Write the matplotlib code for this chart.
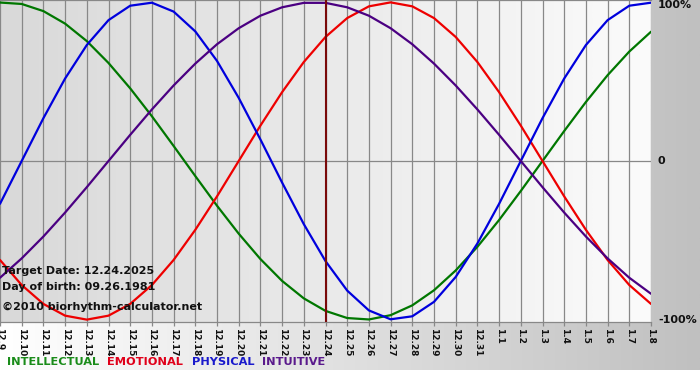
import matplotlib
matplotlib.use("Agg")
import matplotlib.pyplot as plt
import numpy as np
from matplotlib.colors import LinearSegmentedColormap
from matplotlib.transforms import blended_transform_factory

# ---------------- data ----------------
dates = ["12.9", "12.10", "12.11", "12.12", "12.13", "12.14", "12.15", "12.16",
         "12.17", "12.18", "12.19", "12.20", "12.21", "12.22", "12.23", "12.24",
         "12.25", "12.26", "12.27", "12.28", "12.29", "12.30", "12.31",
         "1.1", "1.2", "1.3", "1.4", "1.5", "1.6", "1.7", "1.8"]

intellectual = [0.999, 0.990, 0.945, 0.866, 0.756, 0.618, 0.458, 0.282, 0.095,
                -0.095, -0.282, -0.458, -0.618, -0.756, -0.866, -0.945, -0.990,
                -0.999, -0.972, -0.910, -0.815, -0.690, -0.541, -0.372, -0.189,
                0.0, 0.189, 0.372, 0.541, 0.690, 0.815]
emotional = [-0.624, -0.782, -0.901, -0.975, -1.0, -0.975, -0.901, -0.782,
             -0.624, -0.434, -0.223, 0.0, 0.223, 0.434, 0.624, 0.782, 0.901,
             0.975, 1.0, 0.975, 0.901, 0.782, 0.624, 0.434, 0.223, 0.0,
             -0.223, -0.434, -0.624, -0.782, -0.901]
physical = [-0.270, 0.0, 0.270, 0.520, 0.731, 0.888, 0.979, 0.998, 0.942,
            0.817, 0.631, 0.398, 0.136, -0.136, -0.398, -0.631, -0.817, -0.942,
            -0.998, -0.979, -0.888, -0.731, -0.520, -0.270, 0.0, 0.270, 0.520,
            0.731, 0.888, 0.979, 0.998]
intuitive = [-0.736, -0.614, -0.476, -0.325, -0.165, 0.0, 0.165, 0.325, 0.476,
             0.614, 0.736, 0.837, 0.916, 0.969, 0.997, 0.997, 0.969, 0.916,
             0.837, 0.736, 0.614, 0.476, 0.325, 0.165, 0.0, -0.165, -0.325,
             -0.476, -0.614, -0.736, -0.837]

target_date = "12.24"
y_ticks = [1, 0, -1]
y_tick_labels = ["100%", "0", "-100%"]
info_lines = ["Target Date: 12.24.2025", "Day of birth: 09.26.1981",
              "\u00a92010 biorhythm-calculator.net"]
legend_names = ["INTELLECTUAL", "EMOTIONAL", "PHYSICAL", "INTUITIVE"]

# ---------------- styles ----------------
line_colors = ["#007700", "#ee0000", "#0000dd", "#4b0082"]
text_colors = ["#1a8c1a", "#e0001a", "#1a1acc", "#5a1a8c"]
W, H = 700, 380

fig = plt.figure(figsize=(W / 100, H / 100), dpi=100)
fig.patch.set_facecolor("white")

# outer gradient background
bg = fig.add_axes([0, 0, 1, 1], zorder=0)
bg.set_axis_off()
grad = np.linspace(0, 1, 256).reshape(1, -1)
cm_out = LinearSegmentedColormap.from_list("o", ["#ffffff", "#c0c0c0"])
bg.imshow(grad, aspect="auto", cmap=cm_out, extent=[0, W, 10, H])
bg.set_xlim(0, W)
bg.set_ylim(0, H)

# plot area
pl_left, pl_right, pl_top, pl_bot = 0, 651, 0, 322
ax = fig.add_axes([pl_left / W, 1 - pl_bot / H, (pl_right - pl_left) / W,
                   (pl_bot - pl_top) / H], zorder=1)
x = np.arange(len(dates))
ymin, ymax = -1.015, 1.015
ax.set_xlim(0, len(dates) - 1)
ax.set_ylim(ymin, ymax)
cm_in = LinearSegmentedColormap.from_list("i", ["#d9d9d9", "#fbfbfb"])
ax.imshow(grad, aspect="auto", cmap=cm_in,
          extent=[0, len(dates) - 1, ymin, ymax], zorder=0)

ax.set_xticks(x)
ax.set_xticklabels(dates)
ax.xaxis.grid(True, color="#888888", linewidth=0.9, zorder=1)
ax.set_axisbelow(True)
ax.set_yticks([])
ax.tick_params(axis="x", direction="out", length=3, width=0.9,
               color="#888888", labelsize=6.5, pad=1.5, labelrotation=270)
for lab in ax.get_xticklabels():
    lab.set_fontweight("bold")
    lab.set_color("#111111")
for s in ["left", "right"]:
    ax.spines[s].set_visible(False)
for s in ["top", "bottom"]:
    ax.spines[s].set_color("#888888")
    ax.spines[s].set_linewidth(0.9)
ax.axhline(0, color="#888888", linewidth=0.9, zorder=1)

series = [intellectual, emotional, physical, intuitive]
for vals, c in zip(series, line_colors):
    ax.plot(x, vals, color=c, linewidth=1.6, zorder=3, solid_joinstyle="round",
            solid_capstyle="round")

# target date line
ax.axvline(dates.index(target_date), color="#7a0a0a", linewidth=1.5, zorder=4)

# right-hand labels
tr = blended_transform_factory(fig.transFigure, ax.transData)
for v, lab in zip(y_ticks, y_tick_labels):
    va = "top" if v == max(y_ticks) else "center"
    yy = ymax if v == max(y_ticks) else v
    ax.text(658 / W, yy, lab, transform=tr, ha="left", va=va,
            fontsize=8, fontweight="bold", color="#111111", clip_on=False)

# info text block
for txt, ypx in zip(info_lines, [271, 287, 307]):
    fig.text(2 / W, 1 - ypx / H, txt, ha="left", va="center", fontsize=8,
             fontweight="bold", color="#111111", zorder=5)

# legend texts
for name, c, xpx in zip(legend_names, text_colors, [7, 107, 192, 262]):
    fig.text(xpx / W, 1 - 362 / H, name, ha="left", va="center", fontsize=8.2,
             fontweight="bold", color=c, zorder=5)

fig.savefig("out.png", dpi=100)
